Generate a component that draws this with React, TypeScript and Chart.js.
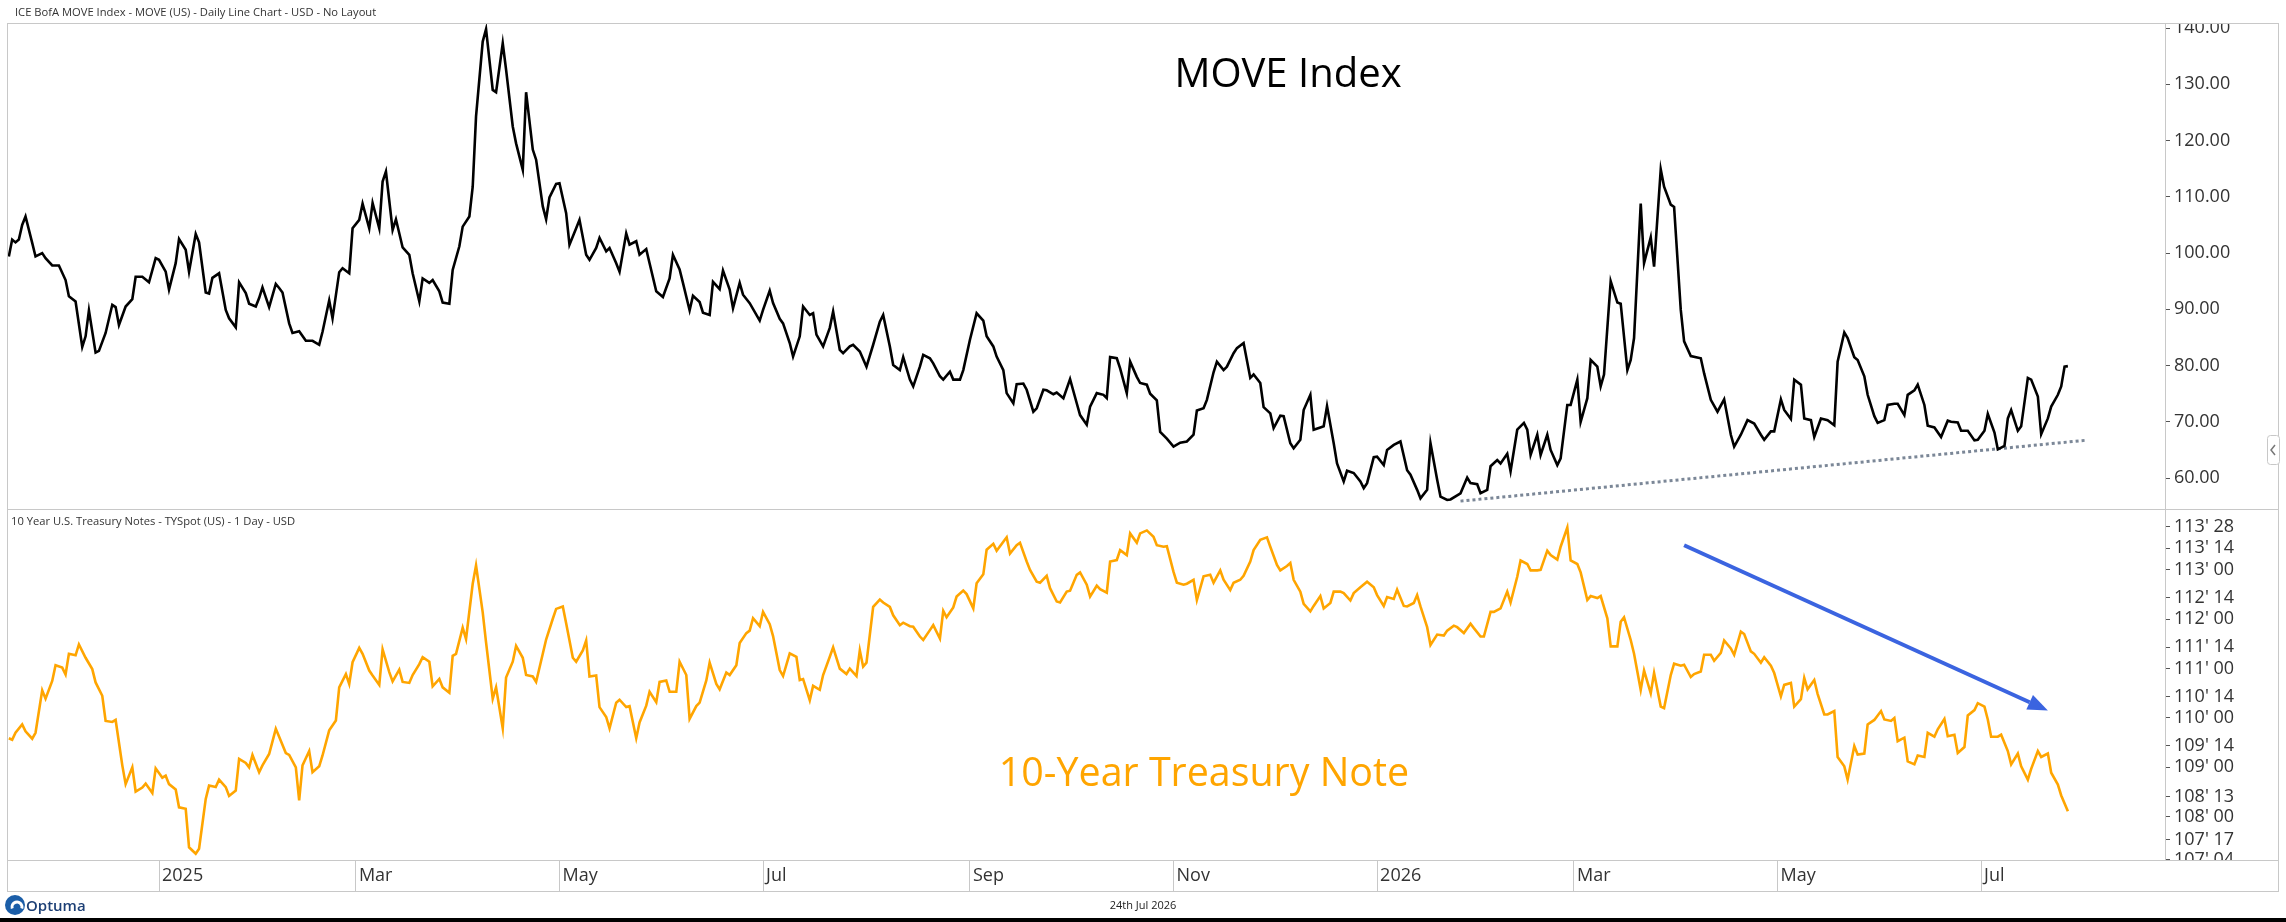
import React, { useEffect, useRef } from 'react';
import { Chart, registerables } from 'chart.js';

Chart.register(...registerables);

const FONT = '"Open Sans", "Noto Sans", sans-serif';

// x values are calendar days counted from 1 Jan 2025
const monthTicks = [0, 59, 120, 181, 243, 304, 365, 424, 485, 546];
const monthLabels = ['2025', 'Mar', 'May', 'Jul', 'Sep', 'Nov', '2026', 'Mar', 'May', 'Jul'];

const moveTicks = [60, 70, 80, 90, 100, 110, 120, 130, 140];
// 10y note price ticks in 32nds
const tsyTicks = [
  107.125, 107.53125, 108, 108.40625, 109, 109.4375, 110, 110.4375,
  111, 111.4375, 112, 112.4375, 113, 113.4375, 113.875,
];

const moveDays = [
  -45, -44, -43, -42, -41, -40, -38, -37, -35, -34, -32, -30, -28, -27, -25, -23, -22, -21, -19, -18,
  -16, -14, -13, -12, -10, -8, -7, -5, -3, -1, 0, 2, 3, 5, 6, 8, 9, 11, 12, 14,
  15, 16, 18, 20, 21, 23, 24, 26, 27, 29, 30, 31, 33, 35, 36, 37, 39, 40, 42, 44,
  46, 48, 49, 51, 52, 54, 55, 57, 58, 60, 61, 63, 64, 66, 67, 68, 70, 71, 73, 75,
  76, 78, 79, 81, 82, 84, 85, 87, 88, 90, 91, 93, 94, 95, 97, 98, 100, 101, 103, 104,
  106, 107, 109, 110, 112, 113, 115, 116, 117, 119, 120, 122, 123, 125, 126, 128, 129, 131, 132, 134,
  135, 137, 138, 140, 141, 143, 144, 146, 147, 149, 151, 153, 154, 156, 157, 159, 160, 162, 163, 165,
  166, 168, 169, 171, 172, 174, 175, 177, 180, 181, 183, 184, 186, 187, 189, 190, 192, 193, 195, 196,
  197, 199, 201, 202, 204, 205, 207, 208, 210, 212, 214, 216, 217, 219, 220, 222, 223, 225, 226, 228,
  229, 231, 232, 234, 235, 237, 238, 240, 241, 243, 245, 247, 248, 250, 251, 253, 254, 256, 257, 259,
  260, 262, 263, 265, 266, 268, 269, 271, 273, 275, 276, 278, 279, 281, 283, 284, 285, 287, 288, 290,
  291, 293, 294, 296, 297, 299, 300, 302, 304, 306, 308, 310, 311, 313, 314, 316, 317, 319, 320, 322,
  323, 325, 327, 328, 330, 331, 333, 334, 336, 337, 339, 340, 342, 343, 345, 346, 348, 349, 350, 352,
  353, 355, 356, 358, 360, 361, 362, 364, 365, 367, 368, 370, 372, 374, 375, 377, 378, 380, 381, 383,
  384, 386, 387, 390, 392, 393, 395, 396, 398, 399, 401, 402, 404, 405, 407, 409, 410, 411, 413, 414,
  416, 417, 419, 420, 422, 423, 425, 426, 428, 429, 431, 432, 433, 435, 437, 438, 440, 441, 442, 444,
  445, 447, 448, 450, 451, 453, 454, 456, 457, 459, 462, 463, 465, 467, 469, 471, 472, 474, 476, 478,
  480, 481, 483, 484, 486, 487, 489, 490, 492, 493, 495, 496, 498, 500, 502, 503, 505, 506, 508, 509,
  511, 512, 514, 515, 517, 518, 520, 521, 523, 524, 526, 527, 529, 530, 532, 534, 536, 537, 539, 540,
  542, 544, 545, 547, 548, 550, 551, 553, 554, 555, 557, 558, 560, 561, 563, 564, 566, 567, 569, 570,
  571, 572,
];
const moveValues = [
  99.4, 102.4, 101.9, 102.4, 105.0, 106.5, 101.8, 99.4, 100.0, 99.1, 97.8, 97.8, 95.2, 92.3, 91.4, 83.3, 85.2, 89.8, 82.3, 82.6,
  85.8, 90.8, 90.4, 87.2, 90.5, 91.8, 95.8, 95.8, 94.8, 99.1, 98.8, 96.7, 93.5, 98.2, 102.5, 100.6, 96.7, 103.4, 101.9, 93.0,
  92.8, 95.6, 96.4, 89.9, 88.4, 86.8, 94.8, 92.9, 91.0, 90.5, 92.0, 93.9, 90.4, 94.5, 93.8, 93.0, 87.5, 85.8, 86.1, 84.4,
  84.4, 83.7, 86.0, 91.6, 88.4, 96.6, 97.3, 96.4, 104.4, 105.9, 108.8, 104.4, 108.9, 104.4, 112.7, 114.5, 104.1, 106.0, 101.0, 99.7,
  96.4, 91.4, 95.5, 94.7, 95.2, 93.2, 91.2, 91.0, 97.0, 101.2, 104.7, 106.5, 111.8, 124.3, 137.6, 139.8, 129.0, 128.6, 137.3, 132.6,
  122.5, 119.5, 114.8, 128.6, 118.4, 116.6, 108.3, 106.0, 109.9, 112.3, 112.4, 107.1, 101.5, 104.4, 105.9, 99.7, 98.8, 100.9, 102.7, 100.3,
  100.9, 98.2, 96.7, 103.5, 101.5, 102.1, 99.7, 100.7, 98.2, 93.2, 92.2, 95.5, 99.7, 97.1, 94.7, 89.8, 92.4, 91.3, 89.4, 89.0,
  94.9, 93.6, 96.9, 93.5, 90.2, 94.7, 92.6, 91.1, 88.0, 89.9, 93.3, 91.1, 88.3, 87.5, 84.0, 81.6, 85.2, 90.5, 89.0, 89.3,
  85.5, 83.4, 86.7, 89.6, 82.8, 82.2, 83.4, 83.7, 82.5, 79.8, 83.7, 87.8, 89.0, 83.4, 80.1, 79.2, 81.5, 77.5, 76.3, 79.8,
  81.9, 81.3, 80.4, 78.1, 77.5, 78.9, 77.5, 77.5, 79.2, 84.6, 89.3, 88.0, 85.2, 83.4, 81.6, 79.2, 75.1, 73.3, 76.7, 76.8,
  75.7, 71.8, 72.4, 75.7, 75.6, 74.9, 75.2, 74.2, 77.6, 73.3, 71.2, 69.5, 72.7, 75.1, 74.8, 74.2, 81.5, 81.3, 79.5, 75.1,
  80.7, 78.0, 76.9, 76.6, 75.0, 73.8, 68.2, 67.0, 65.6, 66.3, 66.5, 67.7, 72.0, 72.4, 73.9, 78.8, 80.7, 79.2, 79.8, 82.2,
  83.1, 84.0, 77.8, 78.4, 76.9, 72.6, 71.5, 68.9, 71.1, 71.0, 66.2, 65.3, 66.8, 72.1, 74.8, 68.6, 69.0, 69.2, 72.8, 66.2,
  62.6, 59.4, 61.3, 60.9, 59.4, 58.2, 59.1, 63.7, 63.8, 62.3, 65.0, 65.9, 66.5, 61.4, 60.6, 57.9, 56.4, 57.9, 66.2, 59.7,
  56.7, 56.1, 56.2, 57.3, 60.1, 59.1, 58.9, 57.3, 57.9, 62.1, 63.2, 62.6, 64.3, 61.2, 68.6, 69.8, 68.6, 64.1, 67.7, 64.1,
  67.7, 65.0, 62.3, 63.5, 73.0, 73.0, 77.5, 70.0, 74.2, 81.0, 79.8, 76.3, 78.4, 95.0, 91.2, 91.0, 79.2, 81.0, 84.9, 108.8,
  98.2, 102.8, 97.6, 114.9, 111.8, 108.6, 108.2, 89.9, 84.3, 81.7, 81.3, 78.6, 73.9, 71.8, 74.0, 67.7, 65.6, 67.7, 70.3, 69.7,
  67.7, 66.8, 68.3, 68.3, 74.0, 72.1, 70.5, 77.5, 76.6, 70.6, 70.3, 67.3, 70.6, 70.3, 69.4, 80.7, 85.9, 84.9, 81.5, 81.0,
  78.1, 74.8, 71.0, 69.8, 70.3, 73.0, 73.2, 73.2, 71.2, 74.8, 75.6, 76.6, 73.0, 69.3, 69.0, 67.3, 70.2, 70.0, 69.9, 68.4,
  68.4, 66.7, 66.8, 68.4, 71.4, 68.1, 65.1, 65.7, 70.6, 72.1, 68.4, 69.2, 77.8, 77.5, 74.5, 67.8, 70.6, 72.7, 74.8, 76.3,
  79.8, 79.9,
];

const tsyDays = [
  -45, -44, -43, -41, -40, -38, -37, -35, -34, -32, -31, -29, -28, -27, -25, -24, -22, -20, -19, -17,
  -16, -14, -13, -11, -10, -8, -7, -5, -4, -2, -1, 1, 2, 3, 5, 6, 8, 9, 11, 12,
  14, 15, 17, 18, 20, 21, 23, 24, 26, 27, 28, 30, 31, 33, 35, 36, 38, 39, 41, 42,
  43, 45, 46, 48, 49, 51, 53, 54, 56, 57, 58, 60, 61, 63, 64, 66, 67, 69, 70, 72,
  73, 75, 76, 78, 79, 81, 82, 84, 85, 87, 88, 89, 91, 92, 94, 95, 97, 98, 100, 101,
  103, 104, 106, 107, 109, 110, 112, 113, 115, 116, 118, 119, 121, 122, 124, 125, 127, 128, 129, 131,
  132, 134, 135, 137, 138, 140, 141, 143, 144, 146, 147, 149, 150, 152, 153, 155, 156, 158, 159, 161,
  162, 164, 165, 167, 168, 170, 171, 173, 174, 176, 177, 178, 180, 181, 183, 184, 186, 187, 189, 191,
  192, 193, 195, 196, 198, 199, 201, 202, 204, 206, 207, 209, 210, 211, 212, 214, 216, 217, 219, 220,
  222, 223, 225, 226, 228, 229, 231, 232, 234, 235, 236, 238, 239, 241, 242, 244, 245, 247, 248, 250,
  251, 253, 254, 255, 257, 258, 260, 261, 263, 264, 266, 267, 269, 270, 272, 273, 275, 276, 278, 279,
  281, 282, 284, 285, 287, 288, 290, 291, 293, 294, 296, 298, 299, 301, 302, 304, 305, 307, 308, 310,
  311, 313, 315, 316, 318, 319, 321, 322, 324, 325, 327, 328, 330, 332, 333, 335, 336, 338, 339, 340,
  342, 343, 345, 346, 348, 349, 351, 352, 354, 355, 357, 358, 360, 362, 364, 365, 367, 368, 370, 371,
  373, 374, 376, 377, 378, 380, 381, 383, 385, 386, 388, 389, 391, 393, 394, 396, 397, 399, 400, 402,
  404, 405, 407, 408, 410, 411, 413, 414, 416, 417, 419, 420, 422, 423, 425, 426, 428, 429, 431, 432,
  434, 435, 437, 438, 439, 441, 442, 444, 445, 447, 448, 450, 451, 453, 454, 456, 457, 459, 460, 462,
  463, 465, 466, 468, 469, 471, 472, 474, 475, 477, 478, 480, 481, 483, 484, 486, 487, 489, 490, 492,
  493, 494, 496, 497, 499, 500, 502, 503, 505, 506, 508, 509, 511, 512, 514, 516, 517, 519, 520, 521,
  523, 524, 526, 527, 529, 530, 532, 533, 535, 536, 538, 539, 541, 542, 544, 545, 547, 548, 549, 551,
  552, 554, 555, 557, 558, 560, 561, 563, 564, 566, 567, 569, 570, 572,
];
const tsyValues = [
  109.59, 109.56, 109.70, 109.87, 109.73, 109.58, 109.70, 110.56, 110.39, 110.75, 111.07, 111.02, 110.88, 111.30, 111.27, 111.49, 111.22, 110.99, 110.72, 110.45,
  109.94, 109.92, 109.96, 109.04, 108.66, 109.00, 108.51, 108.59, 108.67, 108.48, 108.98, 108.79, 108.83, 108.66, 108.55, 108.19, 108.16, 107.38, 107.25, 107.35,
  108.36, 108.63, 108.60, 108.75, 108.60, 108.42, 108.53, 109.17, 109.09, 109.00, 109.25, 108.90, 109.04, 109.27, 109.78, 109.62, 109.29, 109.25, 109.00, 108.33,
  109.04, 109.33, 108.90, 109.02, 109.24, 109.75, 109.95, 110.62, 110.89, 110.69, 111.13, 111.42, 111.30, 110.96, 110.86, 110.67, 111.39, 110.93, 110.74, 110.98,
  110.73, 110.71, 110.87, 111.09, 111.23, 111.14, 110.64, 110.79, 110.62, 110.51, 111.26, 111.30, 111.83, 111.60, 112.72, 113.09, 112.14, 111.53, 110.39, 110.62,
  109.79, 110.82, 111.14, 111.46, 111.22, 110.87, 110.84, 110.73, 111.30, 111.59, 112.01, 112.21, 112.26, 111.92, 111.22, 111.14, 111.37, 111.57, 110.84, 110.86,
  110.22, 110.02, 109.79, 110.31, 110.37, 110.22, 110.24, 109.59, 109.91, 110.25, 110.53, 110.32, 110.73, 110.76, 110.53, 110.53, 111.14, 110.87, 109.98, 110.24,
  110.31, 110.76, 111.12, 110.69, 110.58, 110.92, 110.87, 111.07, 111.52, 111.72, 111.77, 112.02, 111.86, 112.15, 111.90, 111.66, 110.97, 110.85, 111.31, 111.24,
  110.77, 110.79, 110.36, 110.65, 110.57, 110.87, 111.24, 111.43, 111.00, 110.89, 111.00, 110.85, 111.37, 111.04, 111.12, 112.25, 112.40, 112.34, 112.25, 112.08,
  111.88, 111.93, 111.86, 111.85, 111.65, 111.58, 111.78, 111.88, 111.61, 112.17, 112.04, 112.24, 112.46, 112.58, 112.51, 112.22, 112.73, 112.91, 113.41, 113.53,
  113.39, 113.57, 113.66, 113.33, 113.50, 113.55, 113.17, 113.00, 112.76, 112.74, 112.88, 112.63, 112.36, 112.34, 112.56, 112.58, 112.90, 112.95, 112.70, 112.46,
  112.68, 112.61, 112.54, 113.17, 113.20, 113.40, 113.30, 113.74, 113.55, 113.74, 113.80, 113.67, 113.50, 113.47, 113.48, 112.96, 112.74, 112.70, 112.72, 112.80,
  112.39, 112.87, 112.90, 112.74, 112.99, 112.80, 112.59, 112.74, 112.80, 112.88, 113.17, 113.40, 113.61, 113.66, 113.47, 113.10, 112.99, 113.08, 113.14, 112.80,
  112.56, 112.31, 112.16, 112.27, 112.47, 112.22, 112.33, 112.56, 112.56, 112.53, 112.38, 112.53, 112.65, 112.76, 112.65, 112.49, 112.27, 112.45, 112.41, 112.60,
  112.27, 112.26, 112.33, 112.49, 112.26, 111.84, 111.48, 111.69, 111.67, 111.77, 111.87, 111.84, 111.72, 111.91, 111.82, 111.65, 111.65, 112.15, 112.15, 112.22,
  112.56, 112.34, 112.86, 113.19, 113.12, 112.99, 112.99, 113.00, 113.39, 113.30, 113.21, 113.47, 113.86, 113.19, 113.12, 112.95, 112.39, 112.47, 112.43, 112.47,
  112.02, 111.45, 111.45, 111.95, 112.04, 111.58, 111.30, 110.57, 110.96, 110.50, 110.91, 110.23, 110.20, 110.87, 111.10, 111.06, 111.08, 110.83, 110.89, 110.94,
  111.28, 111.28, 111.16, 111.32, 111.57, 111.41, 111.28, 111.75, 111.70, 111.35, 111.30, 111.12, 111.23, 111.06, 110.91, 110.44, 110.67, 110.71, 110.23, 110.38,
  110.81, 110.58, 110.77, 110.49, 110.07, 110.07, 110.14, 109.21, 109.02, 108.75, 109.43, 109.26, 109.28, 109.87, 109.96, 110.14, 109.97, 109.94, 110.00, 109.53,
  109.60, 109.12, 109.06, 109.24, 109.21, 109.70, 109.62, 109.77, 109.98, 109.63, 109.66, 109.29, 109.41, 110.05, 110.16, 110.30, 110.23, 109.97, 109.62, 109.62,
  109.66, 109.33, 109.06, 109.28, 109.02, 108.75, 108.97, 109.33, 109.21, 109.28, 108.89, 108.65, 108.43, 108.11,
];

// drawn-on annotations
const trendDays = [390, 577];
const trendValues = [55.9, 66.7];
const arrowDays = [457, 566];
const arrowValues = [113.5, 110.15];

const fmt32 = (v: number) => {
  const whole = Math.floor(v + 1e-9);
  const n = Math.round((v - whole) * 32);
  return `${whole}' ${String(n).padStart(2, '0')}`;
};

const toPoints = (xs: number[], ys: number[]) => xs.map((x, i) => ({ x, y: ys[i] }));

const FRAME = '#c8c8c8';

const decorations = {
  id: 'decorations',
  afterDraw(chart: any) {
    const { ctx, chartArea, scales } = chart;
    const x = scales.x;
    const yM = scales.yMove;
    const yT = scales.yTsy;
    const left = chartArea.left;
    const right = yM.right;
    const top = chartArea.top;
    const divider = yM.bottom;
    const axisTop = chartArea.bottom;
    const axisBottom = x.bottom;

    ctx.save();
    // clip axis labels that spill past the panel frame
    ctx.fillStyle = '#fff';
    ctx.fillRect(yM.left + 1, 0, right - yM.left + 10, top);
    ctx.fillRect(yM.left + 1, axisTop + 1, right - yM.left + 10, axisBottom - axisTop - 1);

    // frame
    ctx.strokeStyle = FRAME;
    ctx.lineWidth = 1;
    ctx.beginPath();
    [top, divider, axisTop, axisBottom].forEach((y) => {
      ctx.moveTo(left, Math.round(y) + 0.5);
      ctx.lineTo(right, Math.round(y) + 0.5);
    });
    ctx.moveTo(left + 0.5, top);
    ctx.lineTo(left + 0.5, axisBottom);
    ctx.moveTo(right - 0.5, top);
    ctx.lineTo(right - 0.5, axisBottom);
    ctx.stroke();

    // panel captions
    ctx.fillStyle = '#333';
    ctx.textAlign = 'left';
    ctx.textBaseline = 'alphabetic';
    ctx.font = `11.2px ${FONT}`;
    ctx.fillText('ICE BofA MOVE Index - MOVE (US) - Daily Line Chart - USD - No Layout', 15, 16);
    ctx.fillText('10 Year U.S. Treasury Notes - TYSpot (US) - 1 Day - USD', 11, 525);

    ctx.textAlign = 'center';
    ctx.font = `40px ${FONT}`;
    ctx.fillStyle = '#000';
    ctx.fillText('MOVE Index', 1288, 87);
    ctx.font = `39.4px ${FONT}`;
    ctx.fillStyle = '#FFA500';
    ctx.fillText('10-Year Treasury Note', 1204, 786);

    ctx.fillStyle = '#222';
    ctx.font = `11px ${FONT}`;
    ctx.fillText('24th Jul 2026', 1143, 909);

    // trend arrow on the treasury panel
    const x0 = x.getPixelForValue(arrowDays[0]);
    const y0 = yT.getPixelForValue(arrowValues[0]);
    const x1 = x.getPixelForValue(arrowDays[1]);
    const y1 = yT.getPixelForValue(arrowValues[1]);
    const ang = Math.atan2(y1 - y0, x1 - x0);
    const head = 20;
    const half = 8;
    const bx = x1 - head * Math.cos(ang);
    const by = y1 - head * Math.sin(ang);
    ctx.strokeStyle = '#3b64e0';
    ctx.fillStyle = '#3b64e0';
    ctx.lineWidth = 4;
    ctx.beginPath();
    ctx.moveTo(x0, y0);
    ctx.lineTo(bx, by);
    ctx.stroke();
    ctx.beginPath();
    ctx.moveTo(x1, y1);
    ctx.lineTo(bx + half * Math.sin(ang), by - half * Math.cos(ang));
    ctx.lineTo(bx - half * Math.sin(ang), by + half * Math.cos(ang));
    ctx.closePath();
    ctx.fill();

    // collapse tab on the right edge
    ctx.fillStyle = '#fff';
    ctx.strokeStyle = FRAME;
    ctx.lineWidth = 1;
    ctx.beginPath();
    ctx.roundRect(2267.5, 435.5, 12, 29, 3);
    ctx.fill();
    ctx.stroke();
    ctx.strokeStyle = '#777';
    ctx.lineWidth = 1.5;
    ctx.beginPath();
    ctx.moveTo(2275, 445);
    ctx.lineTo(2271, 450);
    ctx.lineTo(2275, 455);
    ctx.stroke();

    // Optuma logo
    ctx.fillStyle = '#1b5ea8';
    ctx.beginPath();
    ctx.arc(15, 905, 10, 0, Math.PI * 2);
    ctx.fill();
    ctx.strokeStyle = '#fff';
    ctx.lineWidth = 3;
    ctx.beginPath();
    ctx.arc(17, 907, 5, Math.PI * 0.9, Math.PI * 2.1);
    ctx.stroke();
    ctx.fillStyle = '#1c3f75';
    ctx.textAlign = 'left';
    ctx.font = `600 15px ${FONT}`;
    ctx.fillText('Optuma', 26, 911);

    // dark strip at the very bottom
    ctx.fillStyle = '#000';
    ctx.fillRect(0, 918, chart.width, 4);
    ctx.restore();
  },
};

export default function App() {
  const canvasRef = useRef<HTMLCanvasElement>(null);

  useEffect(() => {
    document.body.style.margin = '0';
    if (!canvasRef.current) return;
    const ctx = canvasRef.current.getContext('2d');
    if (!ctx) return;

    const tickFont = { family: FONT, size: 18 };

    const chart = new Chart(ctx, {
      type: 'line',
      data: {
        datasets: [
          {
            label: 'MOVE',
            data: toPoints(moveDays, moveValues),
            yAxisID: 'yMove',
            borderColor: '#000',
            borderWidth: 2.6,
            pointRadius: 0,
            tension: 0,
          },
          {
            label: 'Support',
            data: toPoints(trendDays, trendValues),
            yAxisID: 'yMove',
            borderColor: '#7b8797',
            borderWidth: 3,
            borderDash: [3, 3],
            pointRadius: 0,
          },
          {
            label: '10Y Note',
            data: toPoints(tsyDays, tsyValues),
            yAxisID: 'yTsy',
            borderColor: '#FFA500',
            borderWidth: 2.6,
            pointRadius: 0,
            tension: 0,
          },
        ],
      },
      options: {
        responsive: false,
        animation: false,
        events: [],
        layout: { padding: { left: 7, right: 7, top: 23, bottom: 31 } },
        plugins: { legend: { display: false }, tooltip: { enabled: false } },
        scales: {
          x: {
            type: 'linear',
            position: 'bottom',
            min: -45.55,
            max: 601.1,
            afterFit: (s: any) => {
              s.height = 31;
            },
            afterBuildTicks: (s: any) => {
              s.ticks = monthTicks.map((v) => ({ value: v }));
            },
            grid: { drawOnChartArea: false, drawTicks: true, tickLength: 31, color: FRAME },
            border: { display: false },
            ticks: {
              autoSkip: false,
              maxRotation: 0,
              align: 'start',
              labelOffset: 3,
              padding: -26,
              color: '#333',
              font: tickFont,
              callback: (_v: any, i: number) => monthLabels[i],
            },
          },
          yMove: {
            type: 'linear',
            position: 'right',
            stack: 'panels',
            stackWeight: 486,
            min: 54.5,
            max: 140.9,
            afterFit: (s: any) => {
              s.width = 114;
            },
            afterBuildTicks: (s: any) => {
              s.ticks = moveTicks.map((v) => ({ value: v }));
            },
            grid: { drawOnChartArea: false, drawTicks: true, tickLength: 5, color: '#555' },
            border: { display: true, color: FRAME },
            ticks: {
              autoSkip: false,
              padding: 4,
              color: '#333',
              font: tickFont,
              callback: (v: any) => Number(v).toFixed(2),
            },
          },
          yTsy: {
            type: 'linear',
            position: 'right',
            stack: 'panels',
            stackWeight: 351,
            min: 107.1225,
            max: 114.234,
            afterFit: (s: any) => {
              s.width = 114;
            },
            afterBuildTicks: (s: any) => {
              s.ticks = tsyTicks.map((v) => ({ value: v }));
            },
            grid: { drawOnChartArea: false, drawTicks: true, tickLength: 5, color: '#555' },
            border: { display: true, color: FRAME },
            ticks: {
              autoSkip: false,
              padding: 4,
              color: '#333',
              font: tickFont,
              callback: (v: any) => fmt32(Number(v)),
            },
          },
        },
      } as any,
      plugins: [decorations],
    });

    return () => {
      chart.destroy();
    };
  }, []);

  return (
    <div style={{ width: '2286px', height: '922px', position: 'relative', background: '#fff' }}>
      <canvas ref={canvasRef} width={2286} height={922} />
    </div>
  );
}
